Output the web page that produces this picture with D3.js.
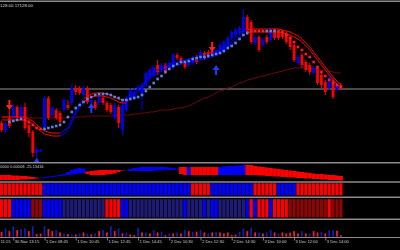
<!DOCTYPE html>
<html><head><meta charset="utf-8">
<script src="https://cdn.jsdelivr.net/npm/d3@7"></script>
<style>html,body{margin:0;padding:0;background:#000;overflow:hidden}svg{display:block}</style>
</head><body><svg id="c" width="400" height="250"></svg>
<script>
// ---- candles (M15 bars) ----
const open=[17077,17069,17082,17082,17093,17082,17093,17075,17068,17047,17049,17072,17102,17085,17090,17087,17090,17095,17097,17112,17112,17105,17112,17097,17098,17097,17102,17097,17095,17082,17093,17070,17090,17102,17102,17110,17105,17115,17123,17125,17135,17130,17135,17132,17133,17145,17142,17138,17135,17137,17143,17142,17147,17148,17149,17145,17147,17150,17154,17162,17165,17167,17168,17183,17178,17157,17163,17155,17163,17160,17170,17168,17168,17167,17163,17155,17137,17145,17138,17135,17127,17132,17125,17118,17112,17120,17110,17115];
const high=[17079,17078,17090,17096,17095,17095,17097,17080,17070,17053,17051,17104,17104,17094,17092,17089,17102,17100,17116,17115,17114,17114,17114,17102,17100,17105,17104,17099,17097,17097,17095,17100,17104,17112,17112,17115,17117,17129,17132,17135,17140,17137,17137,17139,17147,17147,17144,17140,17142,17144,17145,17150,17149,17150,17151,17152,17157,17160,17164,17170,17172,17174,17191,17185,17180,17165,17165,17162,17165,17172,17172,17170,17170,17169,17165,17157,17145,17147,17140,17137,17134,17134,17127,17120,17125,17122,17119,17117];
const low=[17068,17067,17072,17080,17080,17080,17070,17063,17043,17038,17048,17069,17080,17083,17080,17075,17088,17090,17095,17105,17105,17103,17096,17095,17090,17095,17095,17088,17086,17080,17072,17065,17088,17100,17100,17108,17090,17113,17121,17123,17125,17128,17126,17130,17131,17140,17135,17131,17133,17135,17136,17140,17140,17142,17144,17143,17145,17148,17152,17160,17163,17165,17167,17165,17156,17155,17148,17153,17156,17158,17160,17160,17161,17156,17150,17138,17135,17132,17128,17125,17125,17115,17112,17105,17110,17101,17108,17110];
const close=[17070,17076,17074,17093,17082,17093,17072,17067,17047,17050,17050,17102,17082,17092,17082,17078,17100,17092,17112,17108,17107,17112,17098,17100,17092,17103,17097,17090,17088,17095,17077,17095,17102,17110,17108,17113,17115,17127,17130,17133,17128,17135,17128,17137,17145,17142,17137,17133,17140,17142,17138,17148,17142,17144,17146,17150,17155,17158,17162,17168,17170,17172,17183,17168,17158,17163,17150,17160,17158,17170,17162,17162,17163,17158,17153,17140,17143,17135,17130,17128,17132,17117,17115,17108,17123,17103,17117,17112];
const bidPrice=17111;
// ---- overlays ----
const bandLine=[17083,17083,17083,17083,17083,17083,17083,17081,17079,17075,17072,17069,17068,17067,17067,17067,17069,17073,17080,17089,17096,17101,17104,17106,17107,17107,17107,17106,17105,17103,17101,17100,17100,17104,17108,17111,17115,17119,17124,17127,17130,17132,17134,17136,17137,17138,17139,17140,17141,17142,17143,17143,17144,17145,17146,17148,17150,17153,17155,17158,17162,17165,17168,17170,17171,17171,17171,17171,17171,17171,17171,17171,17170,17169,17168,17166,17164,17161,17157,17153,17148,17143,17138,17133,17128,17123,17119,17115];
const bandTrend=[-1,-1,-1,-1,-1,-1,-1,-1,-1,-1,-1,-1,-1,-1,-1,-1,1,1,1,1,1,1,-1,-1,-1,-1,-1,-1,-1,-1,-1,-1,-1,1,1,1,1,1,1,1,1,1,1,1,1,1,1,1,1,1,1,1,1,1,1,1,1,1,1,1,1,1,1,1,-1,-1,-1,-1,-1,-1,-1,-1,-1,-1,-1,-1,-1,-1,-1,-1,-1,-1,-1,-1,-1,-1,-1,-1];
const dots=[null,null,17078,17079,17080,17081,17080,17078,17075,17072,17071,17071,17072,17073,17074,17075,17078,17083,17088,17092,17095,17098,17101,17103,17105,17106,17106,17106,17105,17103,17102,17100,17100,17101,17102,17103,17105,17109,17113,17117,17121,17124,17128,17131,17134,17136,17138,17138,17139,17141,17142,17143,17143,17144,17145,17146,17147,17149,17152,17154,17157,17161,17165,17167,17169,17169,17169,17169,17169,17169,17169,17169,17168,17165,17162,17158,17153,17150,17146,17143,17138,17133,17128,17124,17120,17117,17115,17113];
const dotTrend=[1,1,1,1,1,1,-1,-1,-1,-1,-1,1,1,1,1,1,1,1,1,1,1,1,1,1,1,1,1,1,1,1,1,1,1,1,1,1,1,1,1,1,1,1,1,1,1,1,1,1,1,1,1,1,1,1,1,1,1,1,1,1,1,1,1,1,-1,-1,-1,-1,1,1,1,-1,-1,-1,-1,-1,-1,-1,-1,-1,-1,-1,-1,-1,-1,-1,-1,-1];
const slowMA=[17083,17083,17083,17083,17083,17083,17083,17083,17082,17082,17082,17082,17082,17082,17082,17082,17082,17082,17083,17083,17083,17083,17084,17084,17084,17084,17084,17084,17084,17085,17085,17085,17085,17085,17086,17086,17087,17087,17088,17088,17089,17090,17090,17090,17091,17092,17092,17093,17094,17096,17098,17100,17102,17103,17105,17107,17109,17110,17112,17113,17115,17117,17118,17120,17121,17122,17123,17124,17125,17126,17127,17128,17129,17130,17131,17132,17132,17132,17132,17132,17131,17131,17130,17129,17129,17128,17127,17127];
const arrowIdx=[2,9,23,54,55];
const arrowPrice=[17090,17042,17097,17148,17135];
const arrowDir=[-1,1,1,-1,1];
// ---- indicator panels ----
const macdMain=[-8,-8,-8,-8,-8,-7.5,-7.5,-7,-7,-6.5,-6,-5,-4.5,-4,-3.5,-3,-2,0,2,3,4,3.5,-2,-3,-3,-3,-3,-2.5,-2,-1.5,0,1,2,3,4,4.5,5,5,5,5,5,5,5,4.5,4,3.5,-2,-3,5,-3,-3,-3,-3,-3,-3,-3,5,5.5,6,6,6.5,6.5,7,-3,-3,-3,-3.5,-3.5,-4,-4,-4.5,-4.5,-5,-5,-5.5,-5.5,-6,-6,-6.5,-6.5,-7,-7,-7.5,-7.5,-8,-8,-8,-8.5];
const macdSignal=[-3,-3,-3,-3.5,-3.5,-4,-4,-4.5,-5,-5.5,-6,-6,-5.5,-5,-4.5,-4,-3.5,-3,-2.5,-2,-1.5,-1,0.5,1,1.5,2,2,2,2,2,2,1.5,1.5,1,1,1,1,1,1,1,1.5,1.5,2,2,2,2.5,5,5,-3,5,5,5,5,5,5,5,-3,-3,-3,-3,-3,-3,-3,7,7,6,5.5,5,4.5,4,3.5,3,2.5,2,1.5,1,0.5,0,-0.5,-1,-1.5,-2,-2,-2.5,-3,-3,-3.5,-4];
const trend2=[-1,-1,-1,-1,-1,-1,-1,-1,-1,-1,-1,1,1,1,1,1,1,1,1,1,1,1,1,1,1,1,1,1,1,1,1,1,1,1,1,1,1,1,1,1,1,1,1,1,1,1,1,1,1,-1,-1,-1,-1,-1,1,1,1,1,1,1,1,1,1,1,1,-1,-1,-1,-1,-1,-1,1,1,1,1,1,-1,-1,-1,-1,-1,-1,-1,-1,-1,-1,-1,-1];
const state3=[-2,-2,-2,2,2,2,2,2,-1,-1,-1,2,2,2,2,2,1,1,1,1,1,1,1,1,1,1,1,-2,-2,-2,-2,2,2,1,1,1,1,1,1,1,1,1,1,1,1,1,1,2,1,1,1,1,2,1,2,2,1,1,1,1,1,1,1,2,-2,2,-2,-2,-2,2,-2,-2,-2,-2,-1,-1,-1,-1,-1,-1,-1,-1,-1,-1,-2,-1,-1,-1];
const volume=[480,820,550,1050,650,750,820,550,1050,250,300,1050,750,550,650,420,320,250,220,220,320,420,320,220,320,550,650,420,1050,550,820,320,420,220,150,880,420,420,320,650,420,500,150,320,320,420,320,650,550,480,500,650,420,320,420,480,420,320,420,150,200,500,820,550,880,420,420,320,420,650,420,320,420,320,400,550,320,550,320,320,550,420,480,320,650,650,600,150];
const volDir=[-1,1,-1,1,-1,1,1,-1,1,-1,-1,1,-1,-1,1,-1,1,-1,1,-1,1,-1,1,-1,1,-1,1,-1,1,-1,1,-1,1,-1,-1,1,-1,1,-1,1,-1,1,-1,1,-1,1,-1,1,-1,1,-1,1,-1,1,-1,1,-1,-1,-1,-1,-1,1,1,-1,1,-1,1,-1,1,1,-1,1,-1,-1,-1,-1,-1,1,-1,1,-1,-1,1,-1,1,1,-1,-1];
// ---- time axis ----
const tickIdx=[-0.67,3,11,19,27,35,43,51,59,67,75,83];
const tickLabels=["11:15","30 Nov 13:15","1 Dec 08:45","1 Dec 10:45","1 Dec 12:45","1 Dec 14:45","2 Dec 10:30","2 Dec 12:30","2 Dec 14:30","3 Dec 10:00","3 Dec 12:00","3 Dec 14:00"];

const W=400,H=250,N=open.length;
const RED="#ff0000",BLUE="#0000ff";
const svg=d3.select('#c');
svg.append('rect').attr('width',W).attr('height',H).attr('fill','#000');

const x=d3.scaleLinear().domain([0,N-1]).range([1.6,1.6+3.9*(N-1)]);
const y=d3.scaleLinear().domain([17038,17200]).range([162,0]);
const yP1=d3.scaleLinear().domain([-10,10]).range([182,162]);
const yVol=d3.scaleLinear().domain([0,1200]).range([236.6,224.6]);

const defs=svg.append('defs');
defs.append('clipPath').attr('id','mainClip').append('rect').attr('x',0).attr('y',2).attr('width',W).attr('height',160.5);
defs.append('clipPath').attr('id','p1Clip').append('rect').attr('x',0).attr('y',163.5).attr('width',W).attr('height',18);

const main=svg.append('g').attr('clip-path','url(#mainClip)');
main.append('line').attr('x1',0).attr('x2',W).attr('y1',y(bidPrice)).attr('y2',y(bidPrice))
  .attr('stroke','#4a4a4a').attr('stroke-width',2);
main.append('path').datum(slowMA).attr('fill','none').attr('stroke','#7a0a0a').attr('stroke-width',0.9)
  .attr('d',d3.line().x((d,i)=>x(i)).y(d=>y(d)));
const cg=main.append('g');
d3.range(N).forEach(i=>{
  const up=close[i]>=open[i];
  const col=up?BLUE:RED;
  cg.append('line').attr('x1',x(i)).attr('x2',x(i)).attr('y1',y(high[i])).attr('y2',y(low[i]))
    .attr('stroke',col).attr('stroke-width',1);
  const t=y(Math.max(open[i],close[i])),b=y(Math.min(open[i],close[i]));
  cg.append('rect').attr('x',x(i)-1.4).attr('width',2.8).attr('y',t).attr('height',Math.max(1,b-t)).attr('fill',col);
});
const bg=main.append('g');
[0,3].forEach(off=>{
  for(let i=1;i<N;i++){
    bg.append('line').attr('x1',x(i-1)).attr('x2',x(i)).attr('y1',y(bandLine[i-1])+off).attr('y2',y(bandLine[i])+off)
      .attr('stroke',bandTrend[i]>0?BLUE:RED).attr('stroke-width',1);
  }
});
main.append('g').selectAll('rect').data(dots.map((d,i)=>({d,i})).filter(o=>o.d!==null)).join('rect')
  .attr('x',o=>x(o.i)-1.3).attr('y',o=>y(o.d)-1.3).attr('width',2.6).attr('height',2.6)
  .attr('fill',o=>dotTrend[o.i]>0?'#5a82dc':'#ff1a1a');
arrowIdx.forEach((ix,k)=>{
  const s=arrowDir[k];
  const p=`M0,0 L3.5,${5*s} L1,${5*s} L1,${10*s} L-1,${10*s} L-1,${5*s} L-3.5,${5*s} Z`;
  main.append('path').attr('d',p).attr('transform',`translate(${x(ix)},${y(arrowPrice[k])})`)
    .attr('fill',s>0?'#1e3cff':'#ff2020');
});

const p1=svg.append('g').attr('clip-path','url(#p1Clip)');
d3.range(N).forEach(i=>{
  const a=yP1(macdMain[i]),b=yP1(macdSignal[i]);
  p1.append('rect').attr('x',x(i)-1.95).attr('width',3.95).attr('y',Math.min(a,b)).attr('height',Math.max(0.4,Math.abs(a-b)))
    .attr('fill',macdMain[i]>=macdSignal[i]?BLUE:RED);
});
svg.append('g').selectAll('rect').data(trend2).join('rect')
  .attr('x',(d,i)=>x(i)-1.6).attr('width',3.2).attr('y',183.3).attr('height',12)
  .attr('fill',d=>d>0?BLUE:RED);
const c3={"2":BLUE,"1":"#1e1c74","-1":"#8e0505","-2":RED};
svg.append('g').selectAll('rect').data(state3).join('rect')
  .attr('x',(d,i)=>x(i)-1.6).attr('width',3.2).attr('y',199.2).attr('height',18.2)
  .attr('fill',d=>c3[d]);
svg.append('g').selectAll('rect').data(volume).join('rect')
  .attr('x',(d,i)=>x(i)-0.9).attr('width',1.8).attr('y',d=>yVol(d)).attr('height',d=>yVol(0)-yVol(d))
  .attr('fill',(d,i)=>volDir[i]>0?'#1a1aa8':'#e0203c');

[1.2,162.8,182.1,197.3,219.3].forEach(v=>{
  svg.append('line').attr('x1',0).attr('x2',W).attr('y1',v).attr('y2',v).attr('stroke','#8c8c8c').attr('stroke-width',1.5);
});
svg.append('line').attr('x1',0).attr('x2',W).attr('y1',237.5).attr('y2',237.5).attr('stroke','#8c8c8c').attr('stroke-width',1.2);

const axis=d3.axisBottom(x).tickValues(tickIdx).tickFormat((d,i)=>tickLabels[i]).tickSize(3).tickSizeOuter(0);
const ag=svg.append('g').attr('transform','translate(0,237.5)').call(axis);
ag.select('.domain').remove();
ag.selectAll('.tick line').attr('stroke','#9a9a9a').attr('stroke-width',0.8);
ag.selectAll('.tick text').attr('fill','#d0d0d0').attr('font-family','Liberation Sans, Arial, sans-serif')
  .attr('font-size',4.1).attr('text-anchor','start').attr('x',1).attr('y',5.2).attr('dy',0);

svg.append('text').attr('x',0).attr('y',6.6).attr('fill','#d8d8d8').attr('font-family','Liberation Sans, Arial, sans-serif')
  .attr('font-size',4.4).text('128.00 17128.00');
svg.append('text').attr('x',0).attr('y',167.6).attr('fill','#d0d0d0').attr('font-family','Liberation Sans, Arial, sans-serif')
  .attr('font-size',4.0).text('0000 0.00008 -25.13416');
</script></body></html>
